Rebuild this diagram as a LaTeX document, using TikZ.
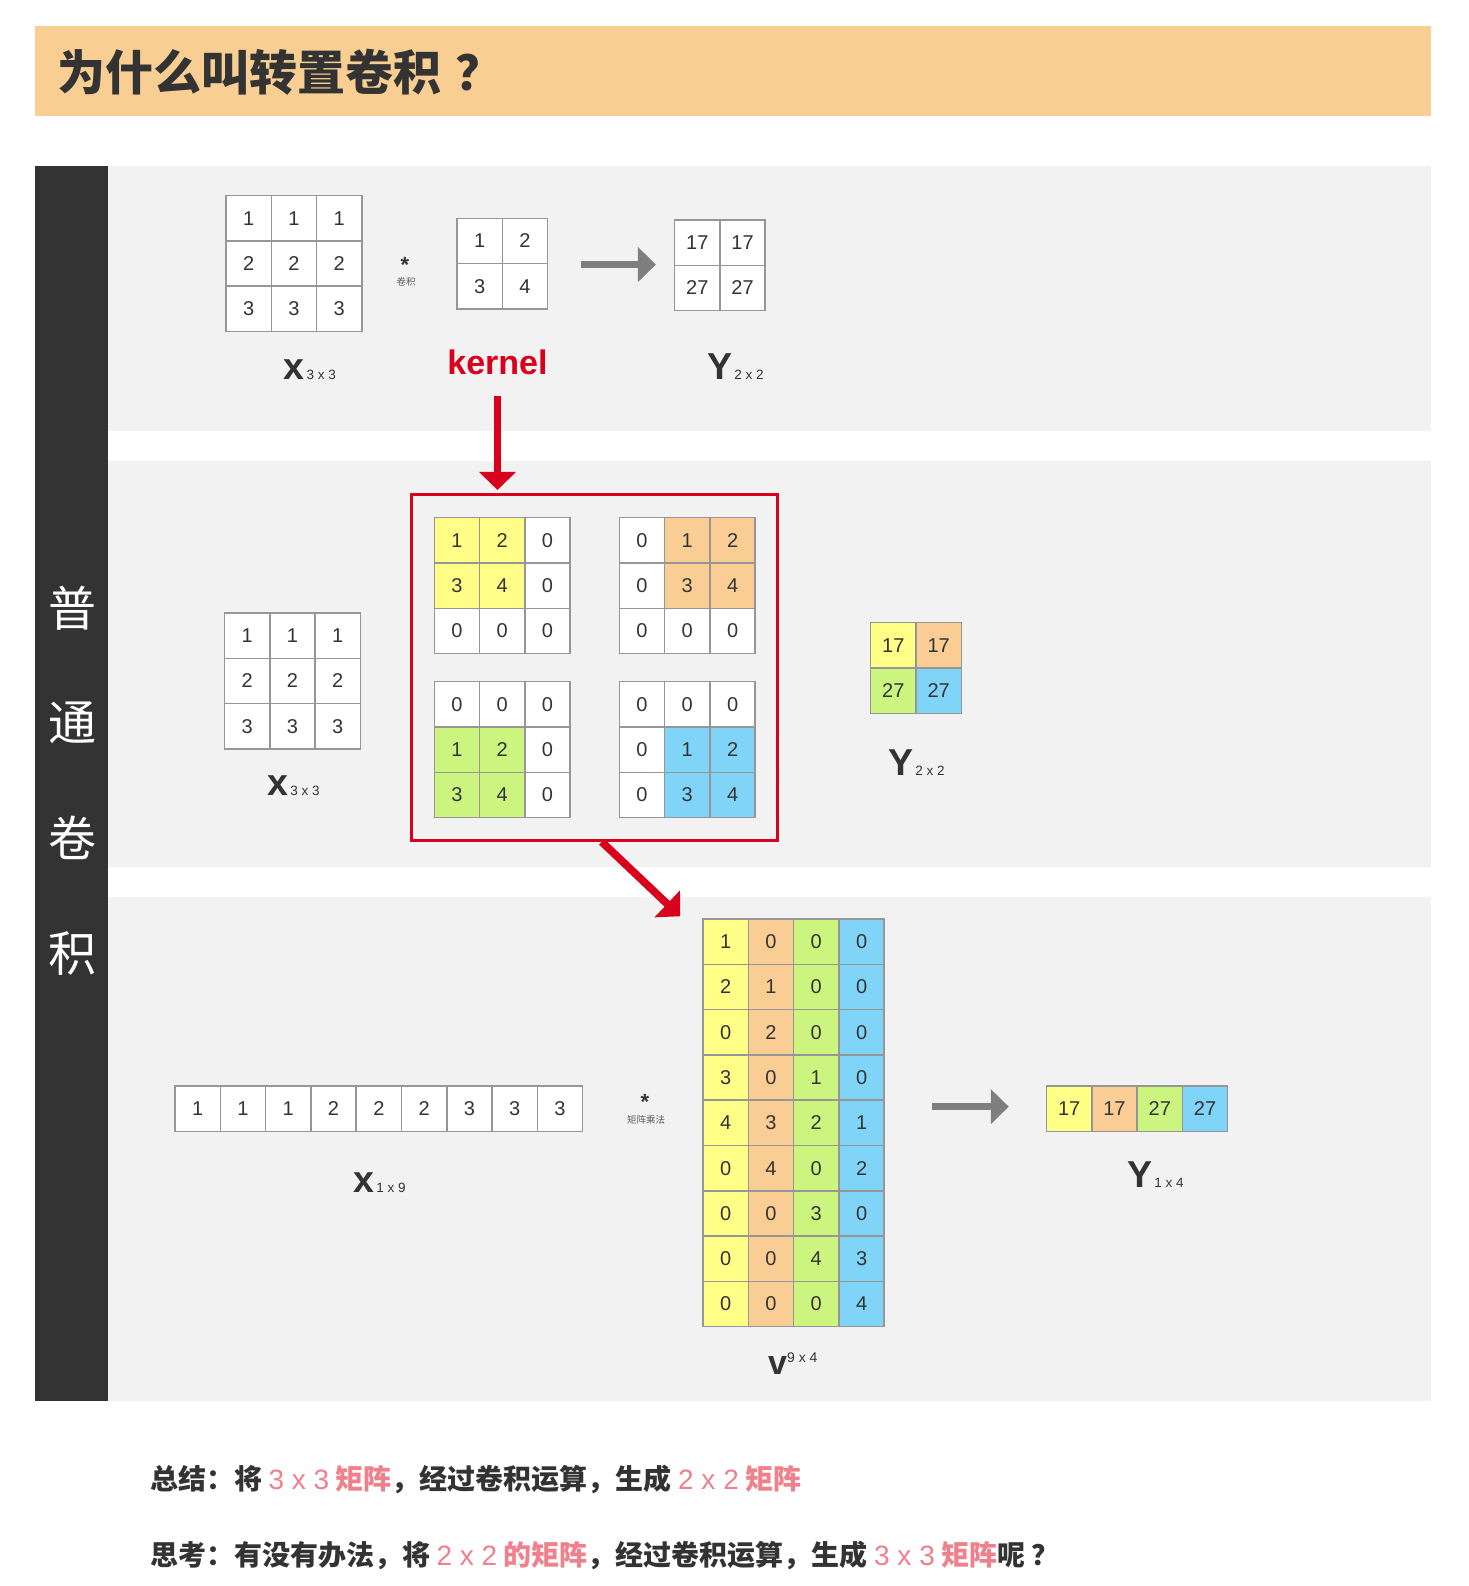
\documentclass[tikz,border=0pt]{standalone}
\usepackage{fontspec}
\setmainfont{Liberation Sans}
\newfontfamily\cjk{Noto Sans CJK SC}
\usetikzlibrary{arrows.meta,fit}

\definecolor{banner}{RGB}{249,206,147}
\definecolor{panelbg}{RGB}{242,242,242}
\definecolor{sidebar}{RGB}{51,51,51}
\definecolor{txt}{RGB}{51,51,51}
\definecolor{cellline}{RGB}{150,150,150}
\definecolor{ylw}{RGB}{255,255,136}
\definecolor{org}{RGB}{249,205,148}
\definecolor{grn}{RGB}{204,245,128}
\definecolor{blu}{RGB}{128,212,248}
\definecolor{kred}{RGB}{216,0,28}
\definecolor{arrowgray}{RGB}{127,127,127}
\definecolor{hl}{RGB}{240,128,140}

\newcommand\fsz[1]{\fontsize{#1}{#1}\selectfont}

% grid of cells: name, left, top, rows of value/colour
\newcommand\cellgrid[4]{%
  \foreach \row [count=\r] in {#4} {
    \foreach \v/\col [count=\c] in \row {
      \node[cell, fill=\col] (#1-\r-\c) at ({#2+45.3*\c-22.65},{#3+45.3*\r-22.65}) {\v};
    }
  }%
}

\begin{document}
\begin{tikzpicture}[
  x=1pt, y=-1pt,
  cell/.style={draw=cellline, line width=1.5pt, minimum size=45.3pt, inner sep=0pt, font=\fsz{20}, text=txt},
  lbl/.style={inner sep=0pt, anchor=base west, text=txt, font=\bfseries\fsz{37.5}},
  grayarrow/.style={draw=arrowgray, line width=7.3pt, -{Triangle[width=34pt,length=18pt]}},
  redarrow/.style={draw=kred, line width=7.7pt, -{Triangle[width=36pt,length=18pt]}},
  redbox/.style={draw=kred, line width=3pt, inner sep=22pt},
  side/.style={text=white, font=\cjk\fsz{48}},
  note/.style={anchor=west, inner sep=0pt, text=txt, font=\cjk\bfseries\fsz{28}},
  op/.style={inner sep=0pt, text=txt, font=\bfseries\fsz{22}},
  opname/.style={inner sep=0pt, text=txt!80, font=\cjk\fsz{9.5}},
]
\useasboundingbox (0,0) rectangle (1468,1586);
\fill[white] (0,0) rectangle (1468,1586);

% title and panels
\fill[banner] (35.4,26) rectangle (1430.5,116);
\node[anchor=west, inner sep=0pt, text=txt, font=\cjk\bfseries\fsz{48}] (title) at (57.5,72) {为什么叫转置卷积\hspace{14pt}？};

\fill[sidebar] (35.4,166) rectangle (108,1401);
\fill[panelbg] (108,166) rectangle (1430.5,430.5);
\fill[panelbg] (108,461) rectangle (1430.5,866.5);
\fill[panelbg] (108,896.5) rectangle (1430.5,1401);
\foreach \ch [count=\i] in {普,通,卷,积}
  \node[side] (side\i) at (72.5,{493+115*\i}) {\ch};

% convolution
\cellgrid{xa}{226}{195.5}{{1/white,1/white,1/white},{2/white,2/white,2/white},{3/white,3/white,3/white}}
\node[op] (conv) at (405,265) {*};
\node[opname] (convname) at (406,281.7) {卷积};
\cellgrid{ka}{457}{218.3}{{1/white,2/white},{3/white,4/white}}
\cellgrid{ya}{674.6}{220}{{17/white,17/white},{27/white,27/white}}
\draw[grayarrow, shorten <=33pt, shorten >=18pt] (ya-2-1.north west -| ka-2-2.east) -- (ya-2-1.north west);

\node[lbl] (xalbl) at (283.4,379) {x{\normalfont\fsz{13.5}\,3 x 3}};
\node[inner sep=0pt, anchor=base, text=kred, font=\bfseries\fsz{34}] (kernel) at (497.5,374) {kernel};
\node[lbl] (yalbl) at (707,379) {Y{\normalfont\fsz{13.5}\,2 x 2}};

% kernel positions
\cellgrid{xb}{224.5}{613}{{1/white,1/white,1/white},{2/white,2/white,2/white},{3/white,3/white,3/white}}
\cellgrid{kA}{434.3}{517.7}{{1/ylw,2/ylw,0/white},{3/ylw,4/ylw,0/white},{0/white,0/white,0/white}}
\cellgrid{kB}{619.3}{517.7}{{0/white,1/org,2/org},{0/white,3/org,4/org},{0/white,0/white,0/white}}
\cellgrid{kC}{434.3}{681.7}{{0/white,0/white,0/white},{1/grn,2/grn,0/white},{3/grn,4/grn,0/white}}
\cellgrid{kD}{619.3}{681.7}{{0/white,0/white,0/white},{0/white,1/blu,2/blu},{0/white,3/blu,4/blu}}
\node[redbox, fit=(kA-1-1)(kD-3-3)] (kbox) {};
\cellgrid{yb}{870.7}{622.7}{{17/ylw,17/org},{27/grn,27/blu}}

\node[lbl] (xblbl) at (267,795) {x{\normalfont\fsz{13.5}\,3 x 3}};
\node[lbl] (yblbl) at (888,775.7) {Y{\normalfont\fsz{13.5}\,2 x 2}};

\draw[redarrow, shorten <=21pt, shorten >=3.5pt] (kernel.south) -- (kernel.south |- kbox.north);

% matrix product
\cellgrid{xc}{175}{1086}{{1/white,1/white,1/white,2/white,2/white,2/white,3/white,3/white,3/white}}
\node[op] (matmul) at (645,1102) {*};
\node[opname] (matmulname) at (646,1120) {矩阵乘法};
\cellgrid{vm}{703}{919}{
  {1/ylw,0/org,0/grn,0/blu},
  {2/ylw,1/org,0/grn,0/blu},
  {0/ylw,2/org,0/grn,0/blu},
  {3/ylw,0/org,1/grn,0/blu},
  {4/ylw,3/org,2/grn,1/blu},
  {0/ylw,4/org,0/grn,2/blu},
  {0/ylw,0/org,3/grn,0/blu},
  {0/ylw,0/org,4/grn,3/blu},
  {0/ylw,0/org,0/grn,4/blu}}
\cellgrid{yc}{1046.5}{1086}{{17/ylw,17/org,27/grn,27/blu}}
\draw[grayarrow, shorten <=47pt, shorten >=37pt] ([yshift=2pt]yc-1-1.west -| vm-1-4.east) -- ([yshift=2pt]yc-1-1.west);

\draw[redarrow] ([xshift=7pt]kbox.south) -- ([xshift=-22pt,yshift=2pt]vm-1-1.north west);

\node[lbl] (xclbl) at (353,1192) {x{\normalfont\fsz{13.5}\,1 x 9}};
\node[lbl, font=\bfseries\fsz{34}] (vlbl) at (768,1374) {v\raisebox{12pt}{\normalfont\fsz{14}9 x 4}};
\node[lbl] (yclbl) at (1127,1187) {Y{\normalfont\fsz{13.5}\,1 x 4}};

% notes
\node[note] (sum) at (150,1479) {总结：将 \textcolor{hl}{{\normalfont 3 x 3} 矩阵}，经过卷积运算，生成 \textcolor{hl}{{\normalfont 2 x 2} 矩阵}};
\node[note] (ask) at (150,1555) {思考：有没有办法，将 \textcolor{hl}{{\normalfont 2 x 2} 的矩阵}，经过卷积运算，生成 \textcolor{hl}{{\normalfont 3 x 3} 矩阵}呢 ？};

\end{tikzpicture}
\end{document}
